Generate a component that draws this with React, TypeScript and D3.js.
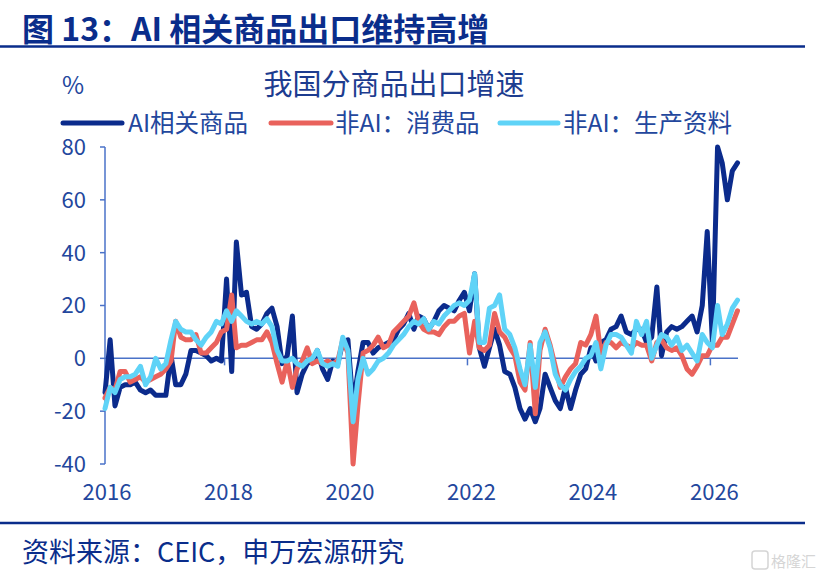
import React from "react";
import * as d3 from "d3";

// monthly export growth, %, from 2016-01
const startYear = 2016;
const aiGoods = [
  -13, 7, -18, -11, -10, -10, -9, -12, -13, -12, -14, -14,
  -14, 1, -10, -10, -6, 3, 3, 2, 1, -1, 0, -1,
  30, -5, 44, 24, 25, 12, 11, 13, 17, 19, 12, -2,
  1, 16, -13, -6, -2, -1, 3, -4, -8, -1, -2, 6,
  7, -18, -5, 6, 6, 2, 4, 5, 6, 7, 11, 13,
  17, 11, 16, 15, 11, 14, 18, 20, 19, 18, 22, 25,
  18, 32, 4, -3, 4, 11, 5, -5, -6, -11, -19, -23,
  -19, -24, -19, -6, -11, -16, -19, -11, -19, -12, -6, -4,
  4, -1, 6, 7, 11, 12, 16, 10, 9, 11, 11, 6,
  8, 27, 1, 10, 12, 11, 12, 14, 16, 10, 20, 48,
  6, 80, 74, 60, 71, 74,
];
const consumerGoods = [
  -15, -11, -12, -5, -5, -9, -8, -7, -9, -8, -7, -6,
  -4, -1, 14, 8, 7, 7, 9, 2, 2, 4, 6, 10,
  11, 24, 4, 5, 5, 6, 7, 7, 10, 6, -2, -9,
  -1, -11, -4, -1, 4, -2, -1, -2, -1, -2, -1, 7,
  2, -40, -18, 2, 3, 5, 8, 4, 5, 10, 12, 14,
  16, 21, 14, 11, 10, 10, 9, 12, 14, 14, 16, 17,
  2, 14, 4, 3, 5, 17, 10, 8, 4, 1, -9, -12,
  6, -21, 3, 11, 5, -3, -11, -7, -4, -2, 6, 5,
  9, 16, 2, 6, 6, 4, 6, 5, 4, 6, 5, 5,
  -1, 6, 7, 4, 3, 4, 1, -4, -6, -3, 1, 1,
  5, 5, 8, 8, 13, 18,
];
const capitalGoods = [
  -19, -11, -13, -8, -7, -7, -6, -3, -10, -7, 0, -4,
  -2, 7, 14, 11, 10, 10, 7, 5, 8, 10, 14, 13,
  18, 14, 18, 16, 14, 13, 14, 13, 15, 12, 3, -1,
  -1, 0, -2, -3, -1, 0, 3, -2, -3, -2, -3, 8,
  3, -24, -8, 0, -6, -4, -1, 0, 2, 5, 7, 9,
  12, 14, 13, 15, 11, 14, 13, 16, 18, 20, 21, 20,
  22, 32, 6, 6, 19, 20, 24, 11, 9, 4, -4, -10,
  5, -11, 6, 10, 4, -6, -10, -12, -8, -5, -3, 0,
  1, 6, -4, 5, 9, 9, 8, 5, 2, 14, 9, 14,
  0, 5, 9, 8, 5, 8, 3, 5, 2, -1, 9, 6,
  4, 20, 9, 13, 19, 22,
];
const yTicks = [-40, -20, 0, 20, 40, 60, 80];
const yearLabels = [2016, 2018, 2020, 2022, 2024, 2026];
const tickYears = [2018, 2022, 2026];

const seriesList = [
  { name: "AI相关商品", values: aiGoods, color: "#0b2b8c", width: 5 },
  { name: "非AI：消费品", values: consumerGoods, color: "#e9625c", width: 5 },
  { name: "非AI：生产资料", values: capitalGoods, color: "#5fd3f7", width: 5 },
];

const W = 819;
const H = 582;
const cjk = "'Noto Sans CJK SC', 'Noto Sans', sans-serif";
const textBlue = "#23479d";
const axisBlue = "#4a72c8";
const titleBlue = "#0a2d8b";

const monthDate = (i: number) => new Date(startYear, i, 1);

export default function App() {
  const n = aiGoods.length;
  const x = d3
    .scaleTime()
    .domain([monthDate(0), monthDate(n - 1)])
    .range([105, 737.5]);
  const y = d3.scaleLinear().domain([-40, 80]).range([464, 147]);

  const line = d3
    .line<number>()
    .x((_, i) => x(monthDate(i)))
    .y((d) => y(d))
    .curve(d3.curveLinear);

  const legendItems = [
    { x1: 63, x2: 122, tx: 128 },
    { x1: 271, x2: 331, tx: 335 },
    { x1: 500, x2: 558, tx: 563 },
  ];

  return (
    <div style={{ position: "absolute", left: 0, top: 0 }}>
      <svg width={W} height={H} style={{ display: "block", background: "#fff" }}>
        {/* header */}
        <text x={22} y={41} fontFamily={cjk} fontWeight={700} fontSize={32} fill={titleBlue}>
          图 13：AI 相关商品出口维持高增
        </text>
        <line x1={0} x2={805} y1={46.5} y2={46.5} stroke={titleBlue} strokeWidth={2.5} />

        {/* chart titles */}
        <text x={62} y={94} fontFamily={cjk} fontSize={24} fill={textBlue}>
          %
        </text>
        <text x={394} y={95} textAnchor="middle" fontFamily={cjk} fontSize={29} fill="#1d3c8f">
          我国分商品出口增速
        </text>

        {/* legend */}
        {seriesList.map((s, k) => (
          <g key={s.name}>
            <line
              x1={legendItems[k].x1}
              x2={legendItems[k].x2}
              y1={123}
              y2={123}
              stroke={s.color}
              strokeWidth={5}
              strokeLinecap="round"
            />
            <text
              x={legendItems[k].tx}
              y={123}
              dy="0.36em"
              fontFamily={cjk}
              fontSize={24.5}
              fill={textBlue}
            >
              {s.name}
            </text>
          </g>
        ))}

        {/* y axis */}
        <line x1={105} x2={105} y1={y(80)} y2={y(-40)} stroke={axisBlue} strokeWidth={1.5} />
        {yTicks.map((t) => (
          <g key={t}>
            <line x1={100} x2={105} y1={y(t)} y2={y(t)} stroke={axisBlue} strokeWidth={1.5} />
            <text
              x={86}
              y={y(t)}
              dy="0.36em"
              textAnchor="end"
              fontFamily={cjk}
              fontSize={22}
              fill={textBlue}
            >
              {t}
            </text>
          </g>
        ))}

        {/* x axis at zero */}
        <line x1={105} x2={738} y1={y(0)} y2={y(0)} stroke={axisBlue} strokeWidth={1.5} />
        {tickYears.map((yr) => (
          <line
            key={yr}
            x1={x(new Date(yr, 0, 1)) - 2}
            x2={x(new Date(yr, 0, 1)) - 2}
            y1={y(0)}
            y2={y(0) + 7}
            stroke={axisBlue}
            strokeWidth={1.5}
          />
        ))}
        {yearLabels.map((yr) => (
          <text
            key={yr}
            x={x(new Date(yr, 0, 1)) + 2}
            y={500}
            textAnchor="middle"
            fontFamily={cjk}
            fontSize={22}
            fill={textBlue}
          >
            {yr}
          </text>
        ))}

        {/* series */}
        {seriesList.map((s) => (
          <path
            key={s.name}
            d={line(s.values) ?? ""}
            fill="none"
            stroke={s.color}
            strokeWidth={s.width}
            strokeLinejoin="round"
            strokeLinecap="round"
          />
        ))}

        {/* footer */}
        <line x1={0} x2={805} y1={523} y2={523} stroke={titleBlue} strokeWidth={2.5} />
        <text x={22} y={562} fontFamily={cjk} fontSize={27} fill={titleBlue}>
          资料来源：CEIC，申万宏源研究
        </text>
        <g opacity={0.35}>
          <rect x={752} y={551} width={16} height={18} rx={3} fill="none" stroke="#888" strokeWidth={1.5} />
          <text x={771} y={567} fontFamily={cjk} fontSize={15} fill="#888">
            格隆汇
          </text>
        </g>
      </svg>
    </div>
  );
}
